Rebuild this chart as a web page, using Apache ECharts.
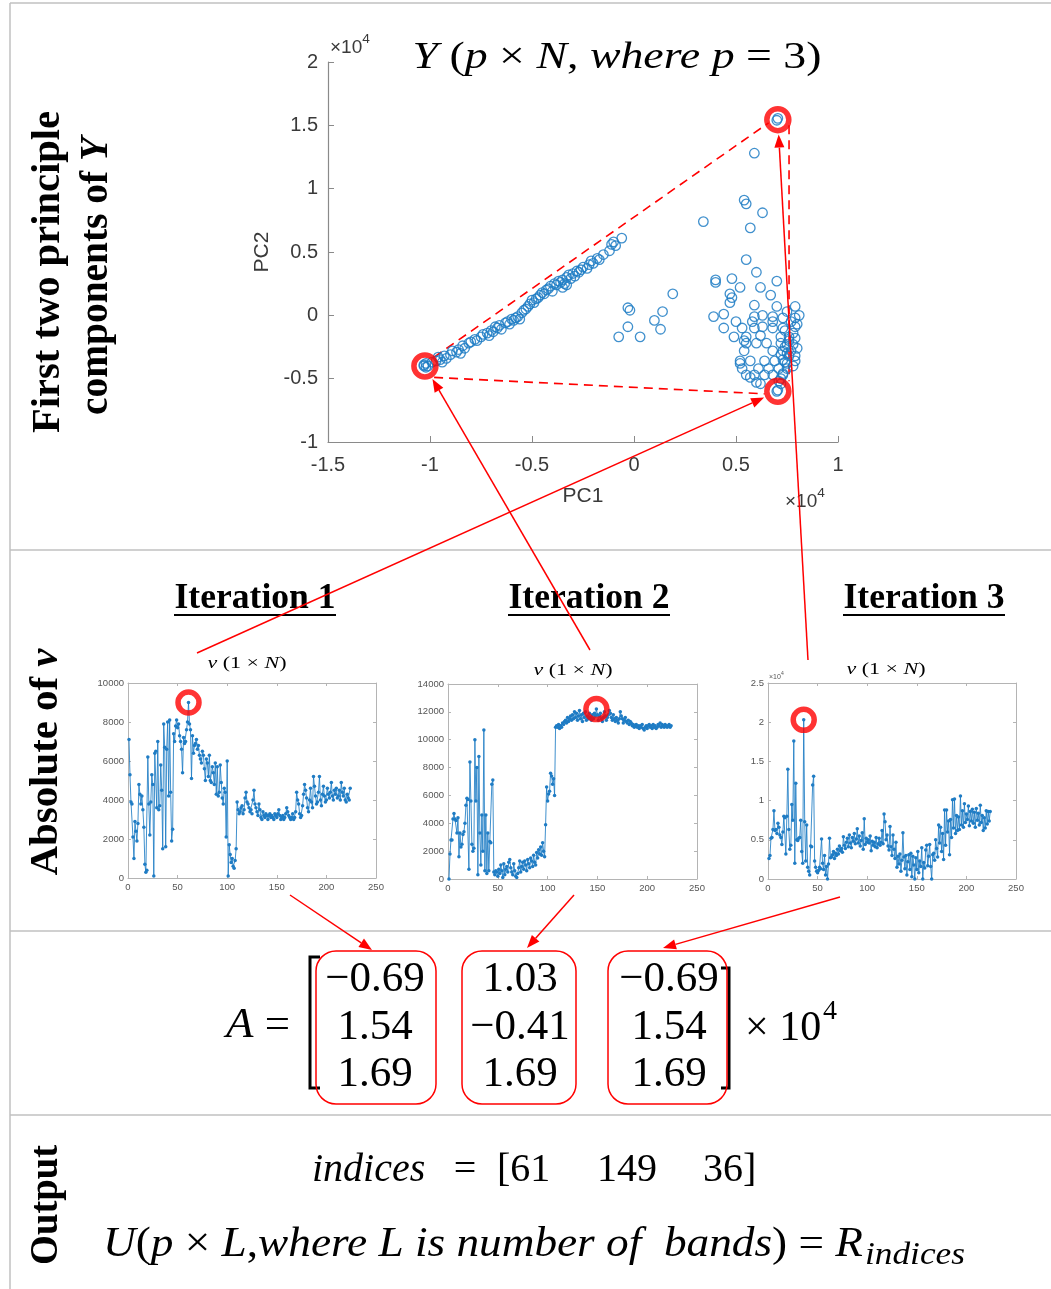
<!DOCTYPE html>
<html>
<head>
<meta charset="utf-8">
<script src="https://cdn.jsdelivr.net/npm/echarts@6.0.0/dist/echarts.min.js"></script>
<style>
  html, body { margin: 0; padding: 0; background: #fff; }
  #main { width: 1051px; height: 1289px; }
</style>
</head>
<body>
<div id="main"></div>
<script>
// ---- Data -------------------------------------------------------------
// First two principal components of Y (units of 1e4)
const pcScores = [
  [-1.03,-0.40],[-1.02,-0.41],[-1.03,-0.39],[-1.01,-0.40],[-1.02,-0.38],[-0.99,-0.37],[-0.97,-0.36],[-0.96,-0.33],
  [-0.95,-0.35],[-0.94,-0.37],[-0.93,-0.32],[-0.92,-0.34],[-0.90,-0.31],[-0.89,-0.28],[-0.87,-0.29],[-0.86,-0.27],
  [-0.85,-0.30],[-0.84,-0.24],[-0.83,-0.26],[-0.81,-0.22],[-0.80,-0.21],[-0.78,-0.19],[-0.77,-0.20],[-0.75,-0.17],
  [-0.74,-0.15],[-0.72,-0.14],[-0.71,-0.16],[-0.70,-0.12],[-0.69,-0.13],[-0.68,-0.09],[-0.67,-0.10],[-0.66,-0.08],
  [-0.65,-0.11],[-0.63,-0.06],[-0.62,-0.05],[-0.61,-0.07],[-0.60,-0.03],[-0.59,-0.04],[-0.58,-0.02],[-0.57,-0.01],
  [-0.56,-0.03],[-0.55,0.02],[-0.54,0.04],[-0.53,0.05],[-0.52,0.07],[-0.51,0.09],[-0.50,0.12],[-0.49,0.10],
  [-0.48,0.13],[-0.47,0.14],[-0.46,0.16],[-0.45,0.18],[-0.44,0.17],[-0.43,0.20],[-0.42,0.21],[-0.41,0.23],
  [-0.40,0.19],[-0.39,0.25],[-0.38,0.24],[-0.37,0.27],[-0.36,0.26],[-0.35,0.28],[-0.35,0.22],[-0.34,0.25],
  [-0.33,0.30],[-0.33,0.24],[-0.32,0.32],[-0.31,0.29],[-0.30,0.33],[-0.29,0.31],[-0.28,0.35],[-0.27,0.34],
  [-0.26,0.36],[-0.25,0.38],[-0.23,0.37],[-0.22,0.40],[-0.21,0.43],[-0.20,0.41],[-0.18,0.45],[-0.17,0.44],
  [-0.15,0.48],[-0.12,0.51],[-0.11,0.56],[-0.10,0.58],[-0.09,0.55],[-0.06,0.61],
  [-0.075,-0.17],[-0.03,-0.09],[-0.03,0.06],[-0.02,0.04],[0.03,-0.17],[0.10,-0.04],[0.13,-0.11],[0.14,0.03],[0.19,0.17],
  [0.34,0.74],[0.54,0.91],[0.55,0.88],[0.63,0.81],[0.57,0.69],[0.55,0.44],[0.60,0.34],[0.40,0.28],[0.40,0.26],
  [0.48,0.29],[0.52,0.22],[0.62,0.22],[0.70,0.27],[0.67,0.16],[0.47,0.17],[0.48,0.14],[0.47,0.10],[0.59,0.08],
  [0.70,0.07],[0.79,0.07],[0.39,-0.01],[0.44,0.01],[0.59,-0.01],[0.63,0.00],[0.68,-0.01],[0.73,-0.02],[0.81,0.00],
  [0.50,-0.05],[0.58,-0.05],[0.68,-0.05],[0.77,-0.05],[0.44,-0.10],[0.53,-0.10],[0.59,-0.10],[0.63,-0.09],
  [0.68,-0.10],[0.73,-0.10],[0.79,-0.09],[0.49,-0.17],[0.55,-0.17],[0.62,-0.16],[0.72,-0.17],[0.76,-0.17],
  [0.79,-0.18],[0.55,-0.22],[0.60,-0.22],[0.65,-0.22],[0.72,-0.22],[0.75,-0.23],[0.54,-0.28],[0.68,-0.28],
  [0.73,-0.28],[0.77,-0.28],[0.52,-0.36],[0.57,-0.36],[0.64,-0.36],[0.69,-0.36],[0.73,-0.35],[0.79,-0.36],
  [0.53,-0.42],[0.61,-0.42],[0.66,-0.42],[0.71,-0.42],[0.75,-0.42],[0.55,-0.47],[0.59,-0.47],[0.64,-0.47],
  [0.68,-0.47],[0.73,-0.47],[0.62,-0.54],[0.72,-0.54],[0.52,-0.38],[0.54,-0.20],[0.57,-0.49],[0.60,-0.53],
  [0.80,-0.07],[0.74,-0.25],[0.76,-0.32],[0.79,-0.32],[0.75,-0.38],[0.73,-0.46],[0.78,-0.14],[0.76,-0.20],
  [0.78,-0.23],[0.75,-0.30],[0.78,-0.40],[0.72,-0.50],[0.71,-0.52],[0.79,-0.02],[0.75,0.03],[0.74,-0.12],
  [0.80,-0.26],[0.72,-0.31],[0.74,-0.37],
  [0.59,1.28],[0.70,1.54],[0.705,1.555],[0.70,-0.60],[0.705,-0.59]
];

// Endmembers selected in iterations 1, 2, 3 (PC space, units of 1e4)
const endmembers = [[0.705, -0.60], [-1.025, -0.40], [0.705, 1.545]];

// Dashed simplex edges (PC space, units of 1e4)
const hullEdges = [
  [[-0.98, -0.33], [0.66, 1.52]],
  [[-0.98, -0.49], [0.64, -0.62]],
  [[0.76, 1.50], [0.76, -0.52]]
];

// Absolute projection |v| per band, one array per iteration (bands 1..224)
const iter1 = [
  7100,5300,3900,3800,2100,1000,2900,2400,1900,2800,
  4800,4300,3800,4200,3500,2600,700,300,400,6200,
  3800,2200,3900,5300,4800,100,6400,6500,3600,7000,
  3500,3700,5800,4500,1500,7900,6700,1600,6600,8000,
  4200,8100,4400,1900,2500,7400,7000,7800,8100,7700,
  7900,7300,7000,6600,5400,7200,6900,7000,7600,8000,
  9000,7900,7600,5100,7300,6400,6800,6900,7100,6600,
  6800,6300,6100,5900,6500,6300,5600,5000,6100,5900,
  5200,6300,5000,4900,5700,5400,4800,5900,4300,5700,
  4200,4400,5800,4900,4100,3800,4600,4400,2100,6000,
  100,1700,1200,800,1000,600,500,900,1500,3900,
  3500,3300,3400,3600,3700,3300,3500,4100,4400,3900,
  3800,3600,3400,3500,3300,4000,4500,3800,3600,3400,
  3200,3800,3500,3100,3000,3400,3200,3100,3300,3200,
  3000,3200,3300,3100,3200,3100,3000,3300,3200,3100,
  3300,3500,3200,3000,3100,3200,3000,3100,3300,3600,
  3400,3200,3100,3000,3100,3300,3000,3100,3400,4400,
  4000,3800,3300,3100,3200,3700,4300,4800,4500,4100,
  3600,3400,4000,4600,3900,3600,5200,4700,4200,3800,
  3900,4400,5200,4000,3700,4300,4700,4200,3900,4000,
  4600,4300,4100,4400,4900,4200,4000,4500,4300,4600,
  4100,4200,4500,4000,4900,4400,4200,4600,4000,3900,
  4300,4100,4000,4600
];
const iter2 = [
  0,1800,2800,2800,4300,4700,4300,4200,3300,4400,
  1600,3300,2300,2500,3200,3400,4000,5300,5800,5700,
  700,8400,5600,2500,2000,2200,10000,5600,8000,300,
  8800,3300,1000,4600,2000,10700,600,4600,400,3300,
  600,2700,2600,6800,7100,500,300,600,500,200,
  700,400,1000,600,100,1100,300,700,900,500,
  1200,1400,800,500,300,1100,600,200,100,400,
  800,1300,500,900,1200,700,1300,1000,600,1400,
  1100,800,1500,1300,900,1700,1200,1000,1900,1500,
  2100,1800,2300,1700,2600,2000,1600,3900,6600,5600,
  6100,6300,7600,7400,6800,7200,6000,10900,11000,10900,
  11100,10800,11000,10900,11200,11100,11300,11400,11200,11600,
  11300,11500,11700,11400,11800,11500,12000,11600,11900,11400,
  11700,12100,11500,11800,11300,11900,11600,12000,11400,11700,
  11500,11900,11600,11400,11800,11500,11900,11700,12200,11800,
  11400,11700,11900,11500,11300,11600,12000,11700,11400,11600,
  11800,12100,11900,11600,11400,11800,11500,11300,11600,11400,
  11200,11500,12000,11700,11500,11200,11400,11600,11300,11200,
  11400,11100,11300,11200,11000,11100,10900,11000,11100,10900,
  11000,10800,11000,10900,11100,10800,10700,10900,11000,10800,
  11000,11100,10900,11000,10800,11100,10900,11000,10800,10900,
  11100,11000,11200,10900,11100,11000,10900,11100,11000,10900,
  11000,11100,10900,11000
];
const iter3 = [
  2600,3000,5200,5300,6300,8700,6200,6300,5800,7100,
  6600,5600,5300,4400,6000,8000,7800,3200,8000,14000,
  6300,3800,4300,9500,7500,17600,2000,12200,5000,4900,
  5200,5300,7500,3500,2000,20300,7300,2300,6900,1500,
  1000,500,4200,4100,12000,13100,2300,1500,1000,800,
  1100,1500,1300,5100,2000,1200,3000,500,1600,0,
  1900,5200,2700,2800,3100,3500,2600,3300,3000,3800,
  3200,4200,3600,3900,3400,5400,4300,3900,4700,5200,
  4100,5600,4600,4000,5300,4800,5800,4500,5100,6400,
  4600,5500,4200,4900,5900,3800,7700,4400,5200,4700,
  5000,4600,5500,3600,4800,4300,4700,4100,5300,4000,
  4500,5200,4300,4700,6200,4500,8300,7300,5000,5600,
  4200,3700,6700,4100,3000,5600,3800,2600,4700,1500,
  2900,1900,3200,1000,2400,5900,2800,1300,3000,500,
  2200,3100,1200,3300,300,2900,1800,0,2700,1200,
  3500,800,2300,1600,4000,0,2100,1400,3700,4300,
  1700,2900,4400,1600,0,3100,3300,2400,5000,3900,
  2800,6900,4600,6600,3500,5800,2500,8800,4300,8800,
  6000,7400,3100,7600,5300,10100,6500,10200,5800,8100,
  6200,7900,6300,10600,6900,8700,6600,9600,7200,8300,
  7600,9300,6800,8600,7400,8900,7100,8500,6600,9000,
  7500,8400,6900,9400,7200,8100,6200,7800,6500,8700,
  7000,8600,7400,8600
];

const indices = [61, 149, 36];
// Columns of A (units of 1e4)
const matrixCols = [[-0.69, 1.54, 1.69], [1.03, -0.41, 1.69], [-0.69, 1.54, 1.69]];

const pcTicksX = [-1.5, -1, -0.5, 0, 0.5, 1];
const pcTicksY = [-1, -0.5, 0, 0.5, 1, 1.5, 2];
const iterAxes = [
  { max: 10000, step: 2000, scale: 1 },
  { max: 14000, step: 2000, scale: 1 },
  { max: 25000, step: 5000, scale: 10000 }
];

// ---- Helpers ----------------------------------------------------------
const SERIF = 'Liberation Serif';
const SANS = 'Liberation Sans';
const BLUE = '#1f7cc4';
const RED = '#ff0000';
const ctx = document.createElement('canvas').getContext('2d');
function measure(t, size, fam, it, bd) {
  ctx.font = (it ? 'italic ' : '') + (bd ? 'bold ' : '') + size + 'px "' + fam + '"';
  return ctx.measureText(t).width;
}
// Lays out a run of text pieces (italic / bold mixes) and stretches it to a width
function textRun(segs, o) {
  let x = 0;
  const items = [];
  segs.forEach(s => {
    const size = s.size || o.size;
    const bd = s.b !== undefined ? s.b : !!o.bold;
    const w = measure(s.t, size, o.family, !!s.i, bd);
    items.push({ t: s.t, x, size, i: !!s.i, b: bd, dy: s.dy || 0 });
    x += w;
  });
  const off = o.anchor === 'left' ? 0 : -x / 2;
  return {
    type: 'group', x: o.cx, y: o.cy, rotation: o.rotation || 0,
    scaleX: o.width ? o.width / x : 1, z: 100,
    children: items.map(it => ({
      type: 'text', x: it.x + off, y: it.dy,
      style: {
        text: it.t, fontSize: it.size, fontFamily: o.family,
        fontStyle: it.i ? 'italic' : 'normal', fontWeight: it.b ? 'bold' : 'normal',
        fill: o.color || '#000', align: 'left', verticalAlign: 'middle'
      }
    }))
  };
}
function arrow(x1, y1, x2, y2) {
  const dx = x2 - x1, dy = y2 - y1, L = Math.hypot(dx, dy);
  const ux = dx / L, uy = dy / L, hl = 13, hw = 5;
  const bx = x2 - ux * hl, by = y2 - uy * hl;
  return [
    { type: 'line', z: 120, shape: { x1, y1, x2: bx, y2: by }, style: { stroke: RED, lineWidth: 1.5 } },
    { type: 'polygon', z: 120, shape: { points: [[x2, y2], [bx - uy * hw, by + ux * hw], [bx + uy * hw, by - ux * hw]] }, style: { fill: RED } }
  ];
}
const fmtMinus = v => v.toFixed(2).replace('-', '\u2212');

// ---- Chart ------------------------------------------------------------
const chart = echarts.init(document.getElementById('main'), null, { renderer: 'canvas' });

const gridBoxes = [
  { left: 328, top: 62, width: 510, height: 380 },
  { left: 128, top: 683, width: 248, height: 195 },
  { left: 448, top: 684, width: 249, height: 195 },
  { left: 768, top: 683, width: 248, height: 196 }
];

const AX = '#8a8a8a';
const xAxes = [{
  gridIndex: 0, type: 'value',
  min: pcTicksX[0], max: pcTicksX[pcTicksX.length - 1], interval: pcTicksX[1] - pcTicksX[0],
  axisLine: { show: true, onZero: false, lineStyle: { color: AX, width: 1.2 } },
  axisTick: { show: true, inside: true, length: 6, lineStyle: { color: AX } },
  splitLine: { show: false },
  axisLabel: { fontSize: 20, color: '#3a3a3a', fontFamily: SANS, margin: 13 },
  name: 'PC1', nameLocation: 'middle', nameGap: 44,
  nameTextStyle: { fontSize: 21, color: '#3a3a3a', fontFamily: SANS }
}];
const yAxes = [{
  gridIndex: 0, type: 'value',
  min: pcTicksY[0], max: pcTicksY[pcTicksY.length - 1], interval: pcTicksY[1] - pcTicksY[0],
  axisLine: { show: true, onZero: false, lineStyle: { color: AX, width: 1.2 } },
  axisTick: { show: true, inside: true, length: 6, lineStyle: { color: AX } },
  splitLine: { show: false },
  axisLabel: { fontSize: 20, color: '#3a3a3a', fontFamily: SANS, margin: 10 },
  name: 'PC2', nameLocation: 'middle', nameGap: 55,
  nameTextStyle: { fontSize: 21, color: '#3a3a3a', fontFamily: SANS }
}];

const BOX = '#b4b4b4';
iterAxes.forEach((a, k) => {
  const gi = k + 1;
  const lab = { fontSize: 9.5, color: '#555', fontFamily: SANS };
  xAxes.push({
    gridIndex: gi, type: 'value', min: 0, max: 250, interval: 50,
    axisLine: { show: true, onZero: false, lineStyle: { color: BOX } },
    axisTick: { inside: true, length: 3, lineStyle: { color: BOX } },
    splitLine: { show: false },
    axisLabel: Object.assign({ margin: 4 }, lab)
  });
  yAxes.push({
    gridIndex: gi, type: 'value', min: 0, max: a.max, interval: a.step,
    axisLine: { show: true, onZero: false, lineStyle: { color: BOX } },
    axisTick: { inside: true, length: 3, lineStyle: { color: BOX } },
    splitLine: { show: false },
    axisLabel: Object.assign({ margin: 4, formatter: v => String(v / a.scale) }, lab)
  });
});
iterAxes.forEach((a, k) => {
  const gi = k + 1;
  xAxes.push({
    gridIndex: gi, type: 'value', position: 'top', min: 0, max: 250, interval: 50,
    axisLine: { show: true, onZero: false, lineStyle: { color: BOX } },
    axisTick: { inside: true, length: 3, lineStyle: { color: BOX } },
    axisLabel: { show: false }, splitLine: { show: false }
  });
  yAxes.push({
    gridIndex: gi, type: 'value', position: 'right', min: 0, max: a.max, interval: a.step,
    axisLine: { show: true, onZero: false, lineStyle: { color: BOX } },
    axisTick: { inside: true, length: 3, lineStyle: { color: BOX } },
    axisLabel: { show: false }, splitLine: { show: false }
  });
});

const series = [];
hullEdges.forEach(e => series.push({
  type: 'line', xAxisIndex: 0, yAxisIndex: 0, data: e, symbol: 'none', silent: true,
  lineStyle: { color: RED, width: 1.6, type: [9, 6] }, z: 3
}));
series.push({
  type: 'scatter', xAxisIndex: 0, yAxisIndex: 0, data: pcScores,
  symbol: 'circle', symbolSize: 9.5,
  itemStyle: { color: 'rgba(0,0,0,0)', borderColor: BLUE, borderWidth: 1.3, opacity: 0.85 }, z: 4
});
series.push({
  type: 'scatter', xAxisIndex: 0, yAxisIndex: 0, data: endmembers,
  symbol: 'circle', symbolSize: 22,
  itemStyle: { color: 'rgba(0,0,0,0)', borderColor: RED, borderWidth: 5.5 }, z: 5
});
[iter1, iter2, iter3].forEach((arr, k) => {
  series.push({
    type: 'line', xAxisIndex: k + 1, yAxisIndex: k + 1,
    data: arr.map((v, i) => [i + 1, v]),
    symbol: 'circle', symbolSize: 3.5, showAllSymbol: true,
    lineStyle: { color: BLUE, width: 1, opacity: 0.85 },
    itemStyle: { color: BLUE }, z: 3
  });
  const idx = indices[k];
  series.push({
    type: 'scatter', xAxisIndex: k + 1, yAxisIndex: k + 1,
    data: [[idx, arr[idx - 1]]], symbol: 'circle', symbolSize: 21,
    itemStyle: { color: 'rgba(0,0,0,0)', borderColor: RED, borderWidth: 5.5 }, z: 5
  });
});

chart.setOption({
  animation: false,
  backgroundColor: '#fff',
  grid: gridBoxes,
  xAxis: xAxes,
  yAxis: yAxes,
  series: series
});

// ---- Annotations ------------------------------------------------------
const g = [];
const RULE = '#c0c0c0';
[3, 550, 931, 1115].forEach(y => g.push({ type: 'line', shape: { x1: 10, y1: y, x2: 1051, y2: y }, style: { stroke: RULE, lineWidth: 1.5 } }));
g.push({ type: 'line', shape: { x1: 10, y1: 3, x2: 10, y2: 1289 }, style: { stroke: RULE, lineWidth: 1.5 } });

// Row labels (rotated)
const ROT = Math.PI / 2;
g.push(textRun([{ t: 'First two principle' }], { family: SERIF, size: 40, bold: true, cx: 49, cy: 272, width: 322, rotation: ROT }));
g.push(textRun([{ t: 'components of ' }, { t: 'Y', i: true }], { family: SERIF, size: 40, bold: true, cx: 97, cy: 276, width: 278, rotation: ROT }));
g.push(textRun([{ t: 'Absolute of ' }, { t: 'v', i: true }], { family: SERIF, size: 40, bold: true, cx: 47, cy: 762, width: 227, rotation: ROT }));
g.push(textRun([{ t: 'Output' }], { family: SERIF, size: 40, bold: true, cx: 47, cy: 1205, width: 120, rotation: ROT }));

// Scatter title and exponent labels
g.push(textRun([
  { t: 'Y', i: true }, { t: ' (' }, { t: 'p', i: true }, { t: ' \u00d7 ' }, { t: 'N', i: true },
  { t: ', ' }, { t: 'where', i: true }, { t: ' ' }, { t: 'p', i: true }, { t: ' = 3)' }
], { family: SERIF, size: 38, cx: 617, cy: 58, width: 409 }));
function expLabel(x, y, size, col) {
  g.push({ type: 'text', x, y, z: 100, style: { text: '\u00d710', fontSize: size, fontFamily: SANS, fill: col, verticalAlign: 'middle' } });
  g.push({ type: 'text', x: x + size * 1.7, y: y - size * 0.45, z: 100, style: { text: '4', fontSize: size * 0.72, fontFamily: SANS, fill: col, verticalAlign: 'middle' } });
}
expLabel(330, 48, 19, '#3a3a3a');
expLabel(785, 502, 19, '#3a3a3a');
expLabel(769, 677, 7, '#555');

// Iteration headings
const iterCx = [255, 589, 924];
iterCx.forEach((cx, k) => {
  g.push(textRun([{ t: 'Iteration ' + (k + 1) }], { family: SERIF, size: 36, bold: true, cx, cy: 599, width: 161 }));
  g.push({ type: 'line', shape: { x1: cx - 81, y1: 615, x2: cx + 81, y2: 615 }, style: { stroke: '#000', lineWidth: 2 } });
});
const subTitle = [[247, 664], [573, 671], [886, 670]];
subTitle.forEach(p => g.push(textRun([
  { t: 'v', i: true }, { t: ' (1 \u00d7 ' }, { t: 'N', i: true }, { t: ')' }
], { family: SERIF, size: 17, cx: p[0], cy: p[1], width: 79 })));

// Matrix A
g.push(textRun([{ t: 'A', i: true }, { t: ' =' }], { family: SERIF, size: 42, cx: 226, cy: 1026, width: 64, anchor: 'left' }));
const colX = [375, 520, 669];
const rowY = [980, 1028, 1075];
matrixCols.forEach((col, c) => col.forEach((v, r) => g.push({
  type: 'text', x: colX[c], y: rowY[r], z: 100,
  style: { text: fmtMinus(v), fontSize: 43, fontFamily: SERIF, fill: '#000', align: 'center', verticalAlign: 'middle' }
})));
g.push({ type: 'polyline', shape: { points: [[320, 957], [310, 957], [310, 1088], [320, 1088]] }, style: { stroke: '#000', lineWidth: 3, fill: null } });
g.push({ type: 'polyline', shape: { points: [[721, 968], [729, 968], [729, 1088], [721, 1088]] }, style: { stroke: '#000', lineWidth: 3, fill: null } });
g.push({ type: 'text', x: 745, y: 1029, z: 100, style: { text: '\u00d7 10', fontSize: 42, fontFamily: SERIF, fill: '#000', verticalAlign: 'middle' } });
g.push({ type: 'text', x: 823, y: 1012, z: 100, style: { text: '4', fontSize: 28, fontFamily: SERIF, fill: '#000', verticalAlign: 'middle' } });
[[316, 436], [462, 576], [608, 727]].forEach(b => g.push({
  type: 'rect', z: 110, shape: { x: b[0], y: 951, width: b[1] - b[0], height: 153, r: 20 },
  style: { fill: null, stroke: RED, lineWidth: 1.5 }
}));

// Output lines
g.push({ type: 'text', x: 312, y: 1170, z: 100, style: { text: 'indices', fontSize: 40, fontStyle: 'italic', fontFamily: SERIF, fill: '#000', verticalAlign: 'middle' } });
g.push({ type: 'text', x: 465, y: 1170, z: 100, style: { text: '=', fontSize: 40, fontFamily: SERIF, fill: '#000', align: 'center', verticalAlign: 'middle' } });
const idxX = [497, 597, 703];
indices.forEach((v, k) => g.push({
  type: 'text', x: idxX[k], y: 1170, z: 100,
  style: { text: (k === 0 ? '[' : '') + v + (k === indices.length - 1 ? ']' : ''), fontSize: 40, fontFamily: SERIF, fill: '#000', verticalAlign: 'middle' }
}));
g.push(textRun([
  { t: 'U', i: true }, { t: '(' }, { t: 'p', i: true }, { t: ' \u00d7 ' }, { t: 'L', i: true }, { t: ',' },
  { t: 'where L is number of  bands', i: true }, { t: ') = ' }, { t: 'R', i: true }
], { family: SERIF, size: 42, cx: 103, cy: 1245, width: 760, anchor: 'left' }));
g.push(textRun([{ t: 'indices', i: true }], { family: SERIF, size: 32, cx: 865, cy: 1256, width: 100, anchor: 'left' }));

// Arrows from each iteration to its endmember in PC space
const arrowStarts = [[197, 653], [590, 650], [808, 660]];
endmembers.forEach((pt, k) => {
  const c = chart.convertToPixel({ xAxisIndex: 0, yAxisIndex: 0 }, pt);
  const s = arrowStarts[k];
  const dx = c[0] - s[0], dy = c[1] - s[1], L = Math.hypot(dx, dy);
  g.push(...arrow(s[0], s[1], c[0] - dx / L * 15, c[1] - dy / L * 15));
});
// Arrows from each iteration to its column of A
[[290, 895, 372, 950], [574, 895, 527, 948], [840, 897, 663, 948]].forEach(a => g.push(...arrow(a[0], a[1], a[2], a[3])));

chart.setOption({ graphic: { elements: g } });
</script>
</body>
</html>
